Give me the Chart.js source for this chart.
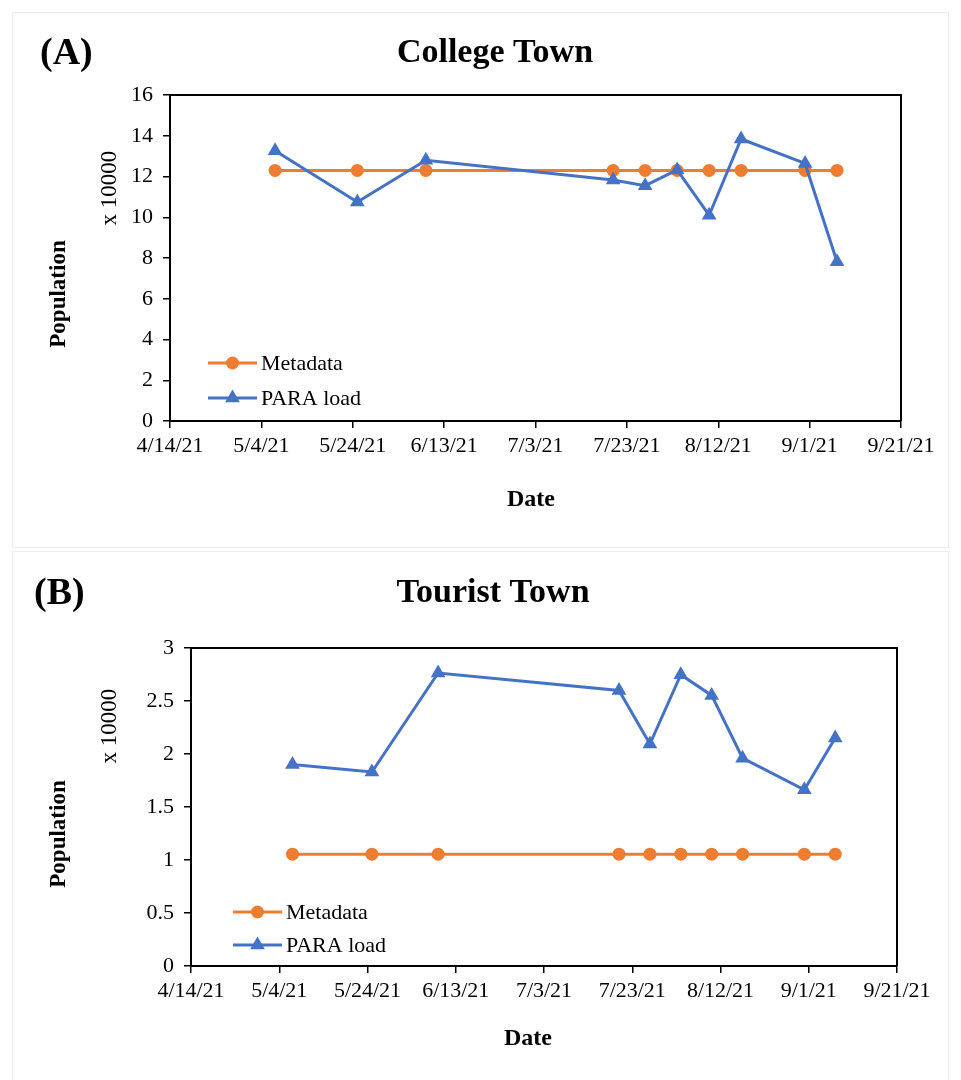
<!DOCTYPE html>
<html>
<head>
<meta charset="utf-8">
<script src="https://cdn.jsdelivr.net/npm/chart.js@4.4.1/dist/chart.umd.min.js"></script>
<style>
  html, body { margin: 0; padding: 0; background: #fff; }
  body { width: 961px; height: 1080px; position: relative; overflow: hidden; }
  .frame { position: absolute; border: 1px solid #ececec; box-sizing: border-box; }
  canvas { position: absolute; left: 0; }
</style>
</head>
<body>
<div class="frame" style="left:12px; top:12px; width:937px; height:536px;"></div>
<div class="frame" style="left:12px; top:551px; width:937px; height:600px;"></div>
<canvas id="college" width="961" height="550" style="top:0px;"></canvas>
<canvas id="tourist" width="961" height="530" style="top:550px;"></canvas>
<script>
// Sampling dates (shared by both towns)
const sampleDates = ['2021-05-07', '2021-05-25', '2021-06-09', '2021-07-20', '2021-07-27',
                     '2021-08-03', '2021-08-10', '2021-08-17', '2021-08-31', '2021-09-07'];

// College Town population (x 10000)
const collegeMetadata = [12.3, 12.3, 12.3, 12.3, 12.3, 12.3, 12.3, 12.3, 12.3, 12.3];
const collegePara     = [13.26, 10.75, 12.8, 11.83, 11.55, 12.32, 10.1, 13.84, 12.64, 7.82];

// Tourist Town population (x 10000)
const touristMetadata = [1.055, 1.055, 1.055, 1.055, 1.055, 1.055, 1.055, 1.055, 1.055, 1.055];
const touristPara     = [1.9, 1.83, 2.764, 2.6, 2.094, 2.748, 2.553, 1.961, 1.662, 2.15];

// Axis tick labels
const dateTickLabels = ['4/14/21', '5/4/21', '5/24/21', '6/13/21', '7/3/21',
                        '7/23/21', '8/12/21', '9/1/21', '9/21/21'];
const collegeYTicks = ['0', '2', '4', '6', '8', '10', '12', '14', '16'];
const touristYTicks = ['0', '0.5', '1', '1.5', '2', '2.5', '3'];

const seriesNames = ['Metadata', 'PARA load'];
const ORANGE = '#ED7D31';
const BLUE = '#4472C4';
const SERIF = "'Liberation Serif', 'Times New Roman', serif";

// Day offsets from the first date tick (4/14/21)
const origin = Date.UTC(2021, 3, 14);
function dayOffset(iso) {
  const [y, m, d] = iso.split('-').map(Number);
  return Math.round((Date.UTC(y, m - 1, d) - origin) / 86400000);
}
const xDays = sampleDates.map(dayOffset);
const toPoints = vals => vals.map((v, i) => ({ x: xDays[i], y: v }));

Chart.defaults.font.family = SERIF;
Chart.defaults.color = '#000';

// Titles, axis captions, legend and plot frame
const annotate = {
  id: 'annotate',
  afterDraw(chart, args, o) {
    const ctx = chart.ctx;
    const a = chart.chartArea;
    ctx.save();
    // plot frame top/right
    ctx.strokeStyle = '#000';
    ctx.lineWidth = 2;
    ctx.beginPath();
    ctx.moveTo(a.left, a.top);
    ctx.lineTo(a.right, a.top);
    ctx.lineTo(a.right, a.bottom);
    ctx.stroke();

    ctx.fillStyle = '#000';
    ctx.textBaseline = 'alphabetic';
    // panel letter
    ctx.font = 'bold 38px ' + SERIF;
    ctx.textAlign = 'left';
    ctx.fillText(o.letter, o.letterX, o.letterY);
    // title
    ctx.font = 'bold 34px ' + SERIF;
    ctx.textAlign = 'center';
    ctx.fillText(o.title, o.titleX, o.titleY);
    // x axis caption
    ctx.font = 'bold 24px ' + SERIF;
    ctx.fillText('Date', o.dateX, o.dateY);
    // y captions (rotated)
    ctx.save();
    ctx.translate(o.unitX, o.unitY);
    ctx.rotate(-Math.PI / 2);
    ctx.font = '23px ' + SERIF;
    ctx.fillText('x 10000', 0, 0);
    ctx.restore();
    ctx.save();
    ctx.translate(o.popX, o.popY);
    ctx.rotate(-Math.PI / 2);
    ctx.font = 'bold 23px ' + SERIF;
    ctx.fillText('Population', 0, 0);
    ctx.restore();

    // legend inside plot area
    const ds = chart.data.datasets;
    const rows = [ds[0], ds[1]];
    rows.forEach((d, i) => {
      const y = o.legendY[i];
      ctx.strokeStyle = d.borderColor;
      ctx.lineWidth = 3;
      ctx.beginPath();
      ctx.moveTo(o.legendX0, y);
      ctx.lineTo(o.legendX1, y);
      ctx.stroke();
      const cx = (o.legendX0 + o.legendX1) / 2;
      ctx.fillStyle = d.borderColor;
      ctx.beginPath();
      if (d.pointStyle === 'triangle') {
        const r = d.pointRadius;
        for (let k = 0; k < 3; k++) {
          const ang = k * 2 * Math.PI / 3;
          const px = cx + Math.sin(ang) * r, py = y - Math.cos(ang) * r;
          if (k === 0) ctx.moveTo(px, py); else ctx.lineTo(px, py);
        }
        ctx.closePath();
      } else {
        ctx.arc(cx, y, d.pointRadius, 0, Math.PI * 2);
      }
      ctx.fill();
      ctx.fillStyle = '#000';
      ctx.font = '22px ' + SERIF;
      ctx.textAlign = 'left';
      ctx.textBaseline = 'middle';
      ctx.fillText(d.label, o.legendX1 + 4, y + 1);
      ctx.textBaseline = 'alphabetic';
    });
    ctx.restore();
  }
};

function buildChart(id, cfg) {
  const yWidth = 80, xHeight = 60;
  const canvasH = document.getElementById(id).height;
  return new Chart(document.getElementById(id), {
    type: 'scatter',
    data: {
      datasets: [
        {
          label: seriesNames[0], data: toPoints(cfg.metadata), showLine: true,
          borderColor: ORANGE, backgroundColor: ORANGE, borderWidth: 3,
          pointStyle: 'circle', pointRadius: 6.5, pointBorderWidth: 0,
          pointBackgroundColor: ORANGE, order: 1
        },
        {
          label: seriesNames[1], data: toPoints(cfg.para), showLine: true,
          borderColor: BLUE, backgroundColor: BLUE, borderWidth: 3,
          pointStyle: 'triangle', pointRadius: 8.5, pointBorderWidth: 0,
          pointBackgroundColor: BLUE, order: 0
        }
      ]
    },
    options: {
      responsive: false,
      animation: false,
      devicePixelRatio: 1,
      layout: {
        padding: {
          left: cfg.plot.left - yWidth,
          right: 961 - cfg.plot.right,
          top: cfg.plot.top,
          bottom: canvasH - cfg.plot.bottom - xHeight
        }
      },
      plugins: {
        legend: { display: false },
        tooltip: { enabled: false },
        annotate: cfg.text
      },
      scales: {
        x: {
          type: 'linear', min: 0, max: 160,
          afterFit(s) { s.height = xHeight; s.paddingLeft = 0; s.paddingRight = 0; },
          ticks: {
            stepSize: 20, autoSkip: false, maxRotation: 0, padding: 5,
            font: { size: 22 }, color: '#000',
            callback: v => dateTickLabels[Math.round(v / 20)]
          },
          grid: { drawOnChartArea: false, tickLength: 7, color: '#000', lineWidth: 1.5 },
          border: { display: true, color: '#000', width: 2 }
        },
        y: {
          min: 0, max: cfg.yMax,
          afterFit(s) { s.width = yWidth; s.paddingTop = 0; s.paddingBottom = 0; },
          ticks: {
            stepSize: cfg.yStep, padding: 10, font: { size: 22 }, color: '#000',
            callback: v => cfg.yTicks[Math.round(v / cfg.yStep)]
          },
          grid: { drawOnChartArea: false, tickLength: 7, color: '#000', lineWidth: 1.5 },
          border: { display: true, color: '#000', width: 2 }
        }
      }
    },
    plugins: [annotate]
  });
}

buildChart('college', {
  metadata: collegeMetadata, para: collegePara,
  yMax: 16, yStep: 2, yTicks: collegeYTicks,
  plot: { left: 170, right: 901, top: 95, bottom: 421 },
  text: {
    letter: '(A)', letterX: 40, letterY: 64,
    title: 'College Town', titleX: 495, titleY: 62,
    dateX: 531, dateY: 506,
    unitX: 116, unitY: 188,
    popX: 65, popY: 294,
    legendX0: 208, legendX1: 257, legendY: [363, 398]
  }
});

buildChart('tourist', {
  metadata: touristMetadata, para: touristPara,
  yMax: 3, yStep: 0.5, yTicks: touristYTicks,
  plot: { left: 191, right: 897, top: 98, bottom: 416 },
  text: {
    letter: '(B)', letterX: 34, letterY: 54,
    title: 'Tourist Town', titleX: 493, titleY: 52,
    dateX: 528, dateY: 495,
    unitX: 116, unitY: 176,
    popX: 65, popY: 284,
    legendX0: 233, legendX1: 282, legendY: [362, 395]
  }
});
</script>
</body>
</html>
